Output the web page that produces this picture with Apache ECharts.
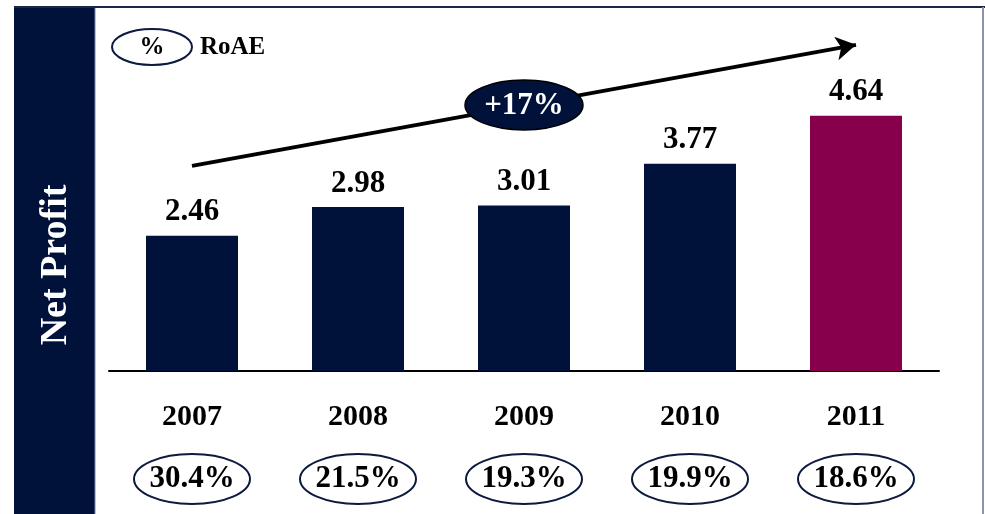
<!DOCTYPE html>
<html>
<head>
<meta charset="utf-8">
<script src="https://cdn.jsdelivr.net/npm/echarts@6/dist/echarts.min.js"></script>
<style>
  html, body { margin: 0; padding: 0; background: #fff; }
  #chart { width: 985px; height: 514px; }
</style>
</head>
<body>
<div id="chart"></div>
<script>
// Net profit by year, with return on average equity shown under each year
const years = ['2007', '2008', '2009', '2010', '2011'];
const netProfit = [2.46, 2.98, 3.01, 3.77, 4.64];
const roae = ['30.4%', '21.5%', '19.3%', '19.9%', '18.6%'];
const growthLabel = '+17%';

const NAVY = '#00113a';
const MAROON = '#86004c';
const FONT = "'Liberation Serif', 'Times New Roman', serif";

const chart = echarts.init(document.getElementById('chart'));

chart.setOption({
  animation: false,
  backgroundColor: '#ffffff',
  grid: { left: 109, right: 46, top: 41, bottom: 143 },
  xAxis: {
    type: 'category',
    data: years,
    axisLine: { lineStyle: { color: '#000', width: 2 } },
    axisTick: { show: false },
    axisLabel: {
      margin: 31,
      fontFamily: FONT, fontWeight: 'bold', fontSize: 30, color: '#000'
    }
  },
  yAxis: {
    type: 'value', min: 0, max: 6,
    show: false, splitLine: { show: false }
  },
  series: [
    {
      type: 'bar',
      data: netProfit.map((v, i) => ({
        value: v,
        itemStyle: { color: i === netProfit.length - 1 ? MAROON : NAVY }
      })),
      barWidth: 92,
      label: {
        show: true, position: 'top', distance: 8,
        fontFamily: FONT, fontWeight: 'bold', fontSize: 31, color: '#000',
        formatter: p => p.value.toFixed(2)
      },
      markLine: {
        silent: true,
        symbol: ['none', 'arrow'],
        symbolSize: [18, 20],
        label: { show: false },
        lineStyle: { color: '#000', width: 4, type: 'solid' },
        data: [[
          { coord: [0, 3.73] },
          { coord: [4, 5.93] }
        ]]
      }
    },
    {
      // RoAE ovals below each year label
      type: 'custom',
      clip: false,
      silent: true,
      data: roae.map((r, i) => [i, 0]),
      renderItem: (params, api) => {
        const p = api.coord([api.value(0), 0]);
        const cy = p[1] + 108;
        return {
          type: 'group',
          children: [
            {
              type: 'ellipse',
              shape: { cx: p[0], cy: cy, rx: 58, ry: 25 },
              style: { fill: '#fff', stroke: '#0d1a40', lineWidth: 2 }
            },
            {
              type: 'text',
              x: p[0], y: cy,
              style: {
                text: roae[params.dataIndex],
                x: 0, y: 0,
                align: 'center', verticalAlign: 'middle',
                font: 'bold 31px ' + FONT, fill: '#000'
              }
            }
          ]
        };
      }
    }
  ],
  graphic: [
    // left title panel
    {
      type: 'rect', z: 10,
      shape: { x: 14, y: 7, width: 81, height: 507 },
      style: { fill: NAVY }
    },
    {
      type: 'line', z: 10,
      shape: { x1: 95, y1: 7, x2: 95, y2: 514 },
      style: { stroke: '#7d86a3', lineWidth: 1 }
    },
    {
      type: 'text', z: 11,
      x: 56, y: 265, rotation: Math.PI / 2,
      style: {
        text: 'Net Profit', align: 'center', verticalAlign: 'middle',
        font: 'bold 38px ' + FONT, fill: '#fff'
      }
    },
    // frame: top and right edges
    {
      type: 'line', z: 10,
      shape: { x1: 14, y1: 7, x2: 985, y2: 7 },
      style: { stroke: '#1c2747', lineWidth: 2 }
    },
    {
      type: 'line', z: 10,
      shape: { x1: 983, y1: 7, x2: 983, y2: 514 },
      style: { stroke: '#8a94ad', lineWidth: 2 }
    },
    // legend: oval marks the RoAE values
    {
      type: 'ellipse', z: 10,
      shape: { cx: 152, cy: 47, rx: 40, ry: 18 },
      style: { fill: '#fff', stroke: '#0d1a40', lineWidth: 2 }
    },
    {
      type: 'text', z: 11, x: 152, y: 48,
      style: {
        text: '%', align: 'center', verticalAlign: 'middle',
        font: 'bold 25px ' + FONT, fill: '#000'
      }
    },
    {
      type: 'text', z: 11, x: 200, y: 48,
      style: {
        text: 'RoAE', align: 'left', verticalAlign: 'middle',
        font: 'bold 25px ' + FONT, fill: '#000'
      }
    },
    // growth badge on the trend arrow
    {
      type: 'ellipse', z: 20,
      shape: { cx: 524, cy: 105, rx: 59, ry: 25 },
      style: { fill: NAVY, stroke: '#000', lineWidth: 1.5 }
    },
    {
      type: 'text', z: 21, x: 524, y: 106,
      style: {
        text: growthLabel, align: 'center', verticalAlign: 'middle',
        font: 'bold 31px ' + FONT, fill: '#fff'
      }
    }
  ]
});
</script>
</body>
</html>
